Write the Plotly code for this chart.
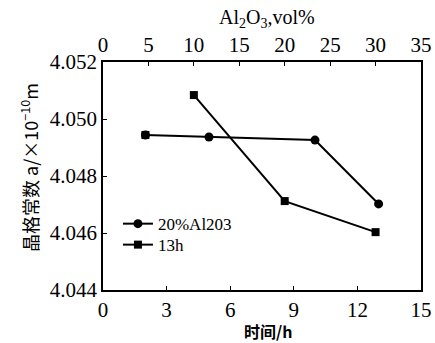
import plotly.graph_objects as go

# Series 1: lattice constant vs time (20% Al2O3)
time_h = [2, 5, 10, 13]
a_time = [4.04944, 4.04937, 4.04926, 4.04702]

# Series 2: lattice constant vs Al2O3 vol% (13h)
vol_pct = [10, 20, 30]
a_vol = [4.05084, 4.04712, 4.04603]

x_ticks = [0, 3, 6, 9, 12, 15]
x2_ticks = [0, 5, 10, 15, 20, 25, 30, 35]
y_ticks = [4.044, 4.046, 4.048, 4.050, 4.052]

serif = "Liberation Serif, Times New Roman, serif"
cjk = "Noto Sans CJK SC"

fig = go.Figure()
fig.add_trace(go.Scatter(
    x=time_h, y=a_time, mode="lines+markers", name="20%Al203",
    line=dict(color="black", width=2),
    marker=dict(symbol="circle", size=9, color="black"),
    xaxis="x", yaxis="y", legend="legend"))
# first point of series 1 is drawn with a square marker in the original
fig.add_trace(go.Scatter(
    x=time_h[:1], y=a_time[:1], mode="markers", showlegend=False,
    marker=dict(symbol="square", size=8, color="black"),
    xaxis="x", yaxis="y"))
fig.add_trace(go.Scatter(
    x=vol_pct, y=a_vol, mode="lines+markers", name="13h",
    line=dict(color="black", width=2),
    marker=dict(symbol="square", size=8, color="black"),
    xaxis="x2", yaxis="y", legend="legend2"))

axis_common = dict(showline=True, linecolor="black", linewidth=1.5,
                   ticks="inside", ticklen=4, tickcolor="black", showgrid=False,
                   zeroline=False, automargin=False,
                   tickfont=dict(family=serif, size=21, color="black"))

leg_common = dict(xanchor="left", yanchor="middle", bgcolor="rgba(0,0,0,0)",
                  font=dict(family=serif, size=17, color="black"), itemwidth=30)

fig.update_layout(
    width=435, height=343,
    margin=dict(l=103, r=14, t=62, b=53),
    paper_bgcolor="white", plot_bgcolor="white",
    showlegend=True,
    legend=dict(x=0.047, y=0.289, **leg_common),
    legend2=dict(x=0.047, y=0.197, **leg_common),
    xaxis=dict(range=[0, 15], tickvals=x_ticks, ticktext=[str(t) for t in x_ticks],
               **axis_common),
    xaxis2=dict(range=[0, 35], tickvals=x2_ticks, ticktext=[str(t) for t in x2_ticks],
                overlaying="x", side="top", **axis_common),
    yaxis=dict(range=[4.044, 4.052], tickvals=y_ticks, mirror=True,
               ticktext=["%.3f" % t for t in y_ticks], **axis_common),
    annotations=[
        dict(text="Al<sub>2</sub>O<sub>3</sub>,vol%", xref="paper", yref="paper",
             x=0.516, y=1.0, yshift=44, xanchor="center", yanchor="middle",
             showarrow=False, font=dict(family=serif, size=20, color="black")),
        dict(text="<b>时间/h</b>", xref="paper", yref="paper", x=0.519, y=0, yshift=-41,
             xanchor="center", yanchor="middle", showarrow=False,
             font=dict(family=cjk, size=16, color="black")),
        dict(text="晶格常数 a/×10<sup>−10</sup>m", xref="paper", yref="paper",
             x=0, xshift=-74, y=0.535, textangle=-90, xanchor="center", yanchor="middle",
             showarrow=False, font=dict(family=cjk, size=18, color="black")),
    ],
)

fig.write_html("out.html", config={"displayModeBar": False},
               post_script="document.body.style.margin='0';document.body.style.padding='0';")
